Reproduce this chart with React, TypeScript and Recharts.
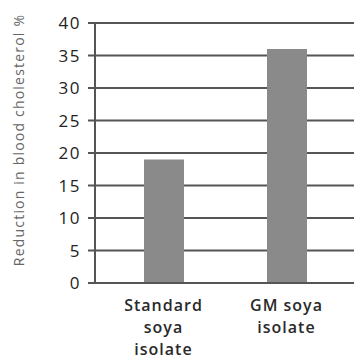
import { BarChart, Bar, XAxis, YAxis, CartesianGrid, Label } from "recharts";

const categories = ["Standard soya isolate", "GM soya isolate"];
const categoryLines = [["Standard", "soya", "isolate"], ["GM soya", "isolate"]];
const reduction = [19, 36];
const yTicks = [0, 5, 10, 15, 20, 25, 30, 35, 40];

const data = categories.map((name, i) => ({ name, reduction: reduction[i] }));

const FONT = "'Open Sans', sans-serif";

// multi-line category names, one <text> per line
function CategoryTick({ x, y, index }: any) {
  const lines = categoryLines[index] ?? [];
  return (
    <g>
      {lines.map((l, i) => (
        <text key={i} x={x} y={y + 20 + i * 22} textAnchor="middle" fontFamily={FONT}
          fontSize={16} fontWeight={600} letterSpacing={1} fill="#2a2a2a">
          {l}
        </text>
      ))}
    </g>
  );
}

function AxisTitle() {
  const cy = 140;
  return (
    <text x={20} y={cy} transform={`rotate(-90, 20, ${cy})`} textAnchor="middle" dominantBaseline="middle"
      fontFamily={FONT} fontSize={14} letterSpacing={1.2} fill="#666">
      Reduction in blood cholesterol %
    </text>
  );
}

export default function App() {
  return (
    <div style={{ position: "absolute", left: 0, top: 0, background: "#fff" }}>
      <BarChart width={354} height={360} data={data} margin={{ top: 23, right: 0, left: 0, bottom: 0 }}>
        <CartesianGrid vertical={false} stroke="#555" strokeWidth={2} />
        <XAxis dataKey="name" height={77} tickLine={false} axisLine={{ stroke: "#555", strokeWidth: 2 }}
          tick={<CategoryTick />} interval={0} padding={{ left: 7, right: 6 }} />
        <YAxis domain={[0, 40]} ticks={yTicks} width={95} tickSize={7}
          axisLine={{ stroke: "#555", strokeWidth: 2 }} tickLine={{ stroke: "#555", strokeWidth: 2 }}
          tick={{ fontFamily: FONT, fontSize: 17, letterSpacing: 1.5, fill: "#222", dx: -5 }}>
          <Label content={<AxisTitle />} />
        </YAxis>
        <Bar dataKey="reduction" fill="#8a8a8a" barSize={40} isAnimationActive={false} />
      </BarChart>
    </div>
  );
}
